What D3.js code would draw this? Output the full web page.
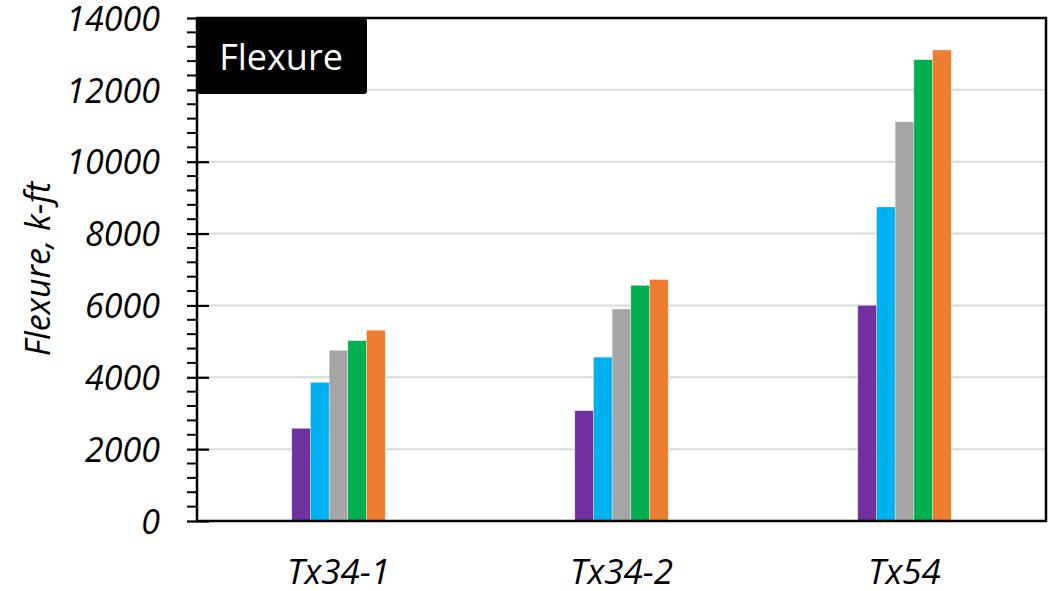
<!DOCTYPE html>
<html><head><meta charset="utf-8">
<script src="https://cdn.jsdelivr.net/npm/d3@7"></script>
<style>
body{margin:0;background:#fff;}
svg text{font-family:"Open Sans",sans-serif;}
</style></head>
<body><svg id="c" width="1053" height="591"></svg>
<script>
const categories = ["Tx34-1", "Tx34-2", "Tx54"];
const seriesNames = ["S1", "S2", "S3", "S4", "S5"];
const seriesColors = ["#7030A0", "#00B0F0", "#A5A5A5", "#00B050", "#ED7D31"];
const s1 = [2580, 3070, 6000];
const s2 = [3860, 4560, 8740];
const s3 = [4750, 5900, 11110];
const s4 = [5020, 6560, 12840];
const s5 = [5310, 6720, 13110];
const yTicks = [0, 2000, 4000, 6000, 8000, 10000, 12000, 14000];
const yTitle = "Flexure, k-ft";
const boxLabel = "Flexure";

const seriesValues = [s1, s2, s3, s4, s5];
const svg = d3.select("#c");
const L = 197, R = 1046, T = 18, B = 521;

const x = d3.scaleBand().domain(categories).range([L, R]).paddingInner(0.67).paddingOuter(0.335);
const xi = d3.scaleBand().domain(seriesNames).range([0, x.bandwidth()]);
const y = d3.scaleLinear().domain([0, 14000]).range([B, T]);

// gridlines
svg.append("g").selectAll("line").data(yTicks.slice(1, -1)).join("line")
  .attr("x1", L).attr("x2", R).attr("y1", d => y(d)).attr("y2", d => y(d))
  .attr("stroke", "#D9D9D9").attr("stroke-width", 2);

// bars
const rows = categories.map((c, i) => ({c, vals: seriesNames.map((s, j) => ({s, j, v: seriesValues[j][i]}))}));
svg.append("g").selectAll("g").data(rows).join("g")
  .attr("transform", d => `translate(${x(d.c)},0)`)
  .selectAll("rect").data(d => d.vals).join("rect")
  .attr("x", d => xi(d.s)).attr("width", xi.bandwidth())
  .attr("y", d => y(d.v)).attr("height", d => y(0) - y(d.v))
  .attr("fill", d => seriesColors[d.j])
  .attr("stroke", "#ffffff").attr("stroke-opacity", 0.5).attr("stroke-width", 0.6);

// minor ticks
const minor = d3.range(0, 14001, 400).filter(v => v % 2000 !== 0);
svg.append("g").selectAll("line").data(minor).join("line")
  .attr("x1", 187).attr("x2", L).attr("y1", d => y(d)).attr("y2", d => y(d))
  .attr("stroke", "#000").attr("stroke-width", 2);

// y axis
const yAxis = d3.axisLeft(y).tickValues(yTicks).tickSize(10).tickPadding(27).tickFormat(d3.format("d"));
const ga = svg.append("g").attr("transform", `translate(${L},0)`).call(yAxis);
ga.select(".domain").remove();
ga.selectAll(".tick line").attr("stroke", "#000").attr("stroke-width", 2.2).attr("x2", -10).attr("x1", 12);
ga.selectAll(".tick text").attr("font-family", "Open Sans").attr("font-style", "italic")
  .attr("font-size", 34).attr("fill", "#000").attr("dy", "0.36em");

// frame
svg.append("rect").attr("x", L).attr("y", T).attr("width", R - L).attr("height", B - T)
  .attr("fill", "none").attr("stroke", "#000").attr("stroke-width", 2.5);

// x labels
svg.append("g").selectAll("text").data(categories).join("text")
  .attr("x", d => x(d) + x.bandwidth() / 2).attr("y", 584)
  .attr("text-anchor", "middle").attr("font-style", "italic").attr("font-size", 35)
  .attr("fill", "#000").text(d => d);

// y title
svg.append("text").attr("transform", "translate(50,269) rotate(-90)")
  .attr("text-anchor", "middle").attr("font-style", "italic").attr("font-size", 34)
  .attr("fill", "#000").text(yTitle);

// label box
svg.append("rect").attr("x", L).attr("y", T).attr("width", 170).attr("height", 76)
  .attr("rx", 3).attr("fill", "#000");
svg.append("text").attr("x", L + 84).attr("y", 70).attr("text-anchor", "middle")
  .attr("font-size", 36).attr("fill", "#fff").text(boxLabel);
</script></body></html>
